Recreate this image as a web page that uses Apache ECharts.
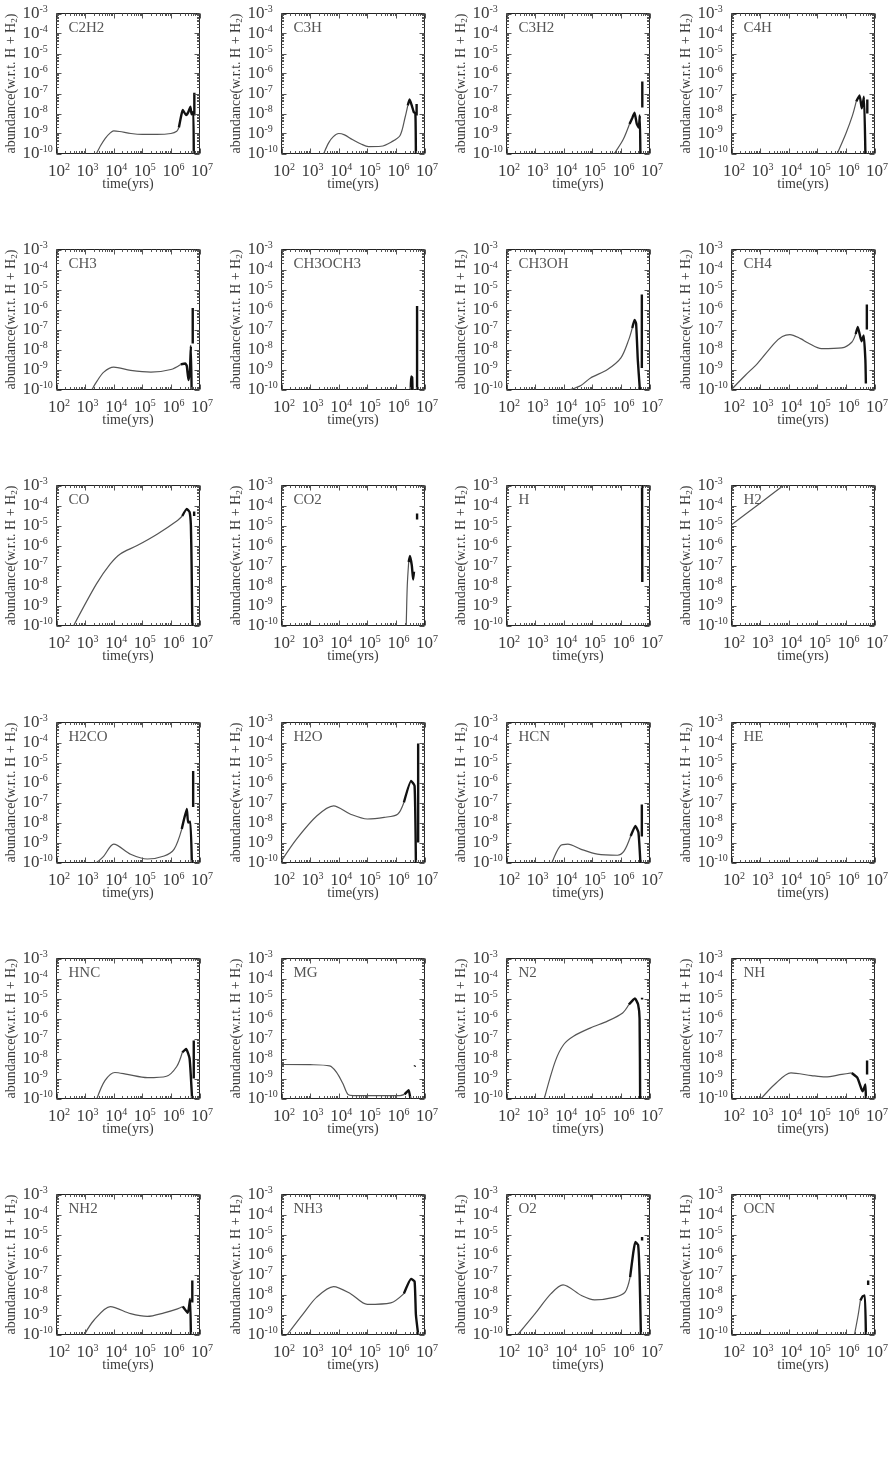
<!DOCTYPE html>
<html><head><meta charset="utf-8">
<script src="https://cdn.jsdelivr.net/npm/echarts@6/dist/echarts.min.js"></script>
<style>html,body{margin:0;padding:0;background:#fff}#c{width:888px;height:1462px}</style>
</head><body><div id="c"></div>
<script>
// ---------- data (time in yrs, abundance w.r.t. H + H2) ----------
const species = ['C2H2','C3H','C3H2','C4H','CH3','CH3OCH3','CH3OH','CH4','CO','CO2','H','H2',
                 'H2CO','H2O','HCN','HE','HNC','MG','N2','NH','NH2','NH3','O2','OCN'];
const GAP = [null, null];
const xTickDecades = [2, 3, 4, 5, 6, 7];
const yTickDecades = [-10, -9, -8, -7, -6, -5, -4, -3];
const minorSteps = [2, 3, 4, 5, 6, 7, 8, 9];

const d_C2H2 = [[2.5e3,1e-10],[3.5e3,2.5e-10],[5e3,5.6e-10],[7.6e3,1.07e-9],[1e4,1.35e-9],[1.6e4,1.26e-9],[4e4,1e-9],[1e5,9e-10],[3.2e5,9e-10],[1e6,1e-9],[1.6e6,1.3e-9],[1.9e6,2e-9]];
const t_C2H2 = [[1.9e6,2e-9],[2.3e6,8e-9],[2.6e6,1.5e-8],[3.4e6,8.3e-9],[4.1e6,1.2e-8],[4.8e6,2.2e-8],[5.3e6,9e-9],[6.1e6,1.2e-8],[6.3e6,1e-10],GAP,[6.6e6,8e-9],[6.6e6,1.1e-7]];
const d_C3H = [[3e3,1e-10],[4.5e3,3.5e-10],[6.5e3,7e-10],[1e4,1e-9],[1.6e4,8.5e-10],[3e4,5e-10],[6e4,3e-10],[1.1e5,2.2e-10],[3e5,2.3e-10],[7e5,3.8e-10],[1.4e6,8e-10],[2.1e6,6.5e-9],[2.6e6,2.5e-8]];
const t_C3H = [[2.6e6,2.5e-8],[3e6,5e-8],[3.6e6,2.5e-8],[4.2e6,1.2e-8],[4.8e6,1e-8],[5e6,1e-10],GAP,[5.3e6,8e-9],[5.3e6,3e-8]];
const d_C3H2 = [[5.9e5,1e-10],[1.2e6,5e-10],[2e6,3e-9]];
const t_C3H2 = [[2e6,3e-9],[2.5e6,6e-9],[3e6,1.1e-8],[3.6e6,3e-9],[4.2e6,2e-9],[4.6e6,8e-9],[4.8e6,1e-10],GAP,[5.6e6,2e-8],[5.6e6,4e-7]];
const d_C4H = [[5e5,1e-10],[1e6,1e-9],[1.7e6,8e-9],[2.3e6,4e-8]];
const t_C4H = [[2.3e6,4e-8],[3e6,8e-8],[3.6e6,1.8e-8],[4.3e6,7e-8],[4.8e6,1e-10],GAP,[5.6e6,1e-8],[5.6e6,5e-8]];
const d_CH3 = [[1.75e3,1e-10],[2.6e3,2.6e-10],[4.5e3,7.4e-10],[1e4,1.3e-9],[3.9e4,9e-10],[2e5,7.4e-10],[1e6,1e-9],[2.2e6,1.8e-9]];
const t_CH3 = [[2.2e6,1.8e-9],[3.2e6,2e-9],[3.6e6,1.5e-9],[4.1e6,3e-10],[4.6e6,8e-10],[5e6,1.5e-8],[5.3e6,1e-10],GAP,[5.8e6,2e-8],[5.8e6,1.2e-6]];
const d_CH3OCH3 = [];
const t_CH3OCH3 = [[3.3e6,1e-10],[3.4e6,4.5e-10],[3.7e6,4e-10],[3.8e6,1e-10],GAP,[5.5e6,1e-10],[5.5e6,1.5e-6]];
const d_CH3OH = [[1.7e4,1e-10],[4e4,1.6e-10],[8.7e4,3.8e-10],[3.4e5,1e-9],[1e6,3.8e-9],[1.9e6,3.2e-8],[2.5e6,1.2e-7]];
const t_CH3OH = [[2.5e6,1.2e-7],[3e6,3e-7],[3.4e6,2e-7],[3.9e6,3e-9],[4.6e6,1e-10],GAP,[5.4e6,1.2e-9],[5.4e6,5.6e-6]];
const d_CH4 = [[1e2,1e-10],[3e2,5e-10],[8.3e2,2.1e-9],[3.2e3,2.1e-8],[6e3,4.5e-8],[1.1e4,5.6e-8],[2.6e4,3.5e-8],[4.8e4,2.1e-8],[1.4e5,1.1e-8],[7.2e5,1.2e-8],[1.6e6,2.3e-8],[2.2e6,6e-8]];
const t_CH4 = [[2.2e6,6e-8],[2.6e6,1.35e-7],[3.5e6,2.6e-8],[4.2e6,5e-8],[4.8e6,3e-9],[5e6,2e-10],GAP,[5.4e6,1e-7],[5.4e6,1.8e-6]];
const d_CO = [[4e2,1e-10],[2.5e3,1.2e-8],[7.6e3,1.2e-7],[1.7e4,3.8e-7],[6.6e4,1e-6],[3.4e5,3.8e-6],[1.7e6,1.8e-5],[2.5e6,3e-5]];
const t_CO = [[2.5e6,3e-5],[3.6e6,6.8e-5],[4.5e6,4.7e-5],[5e6,1e-5],[5.3e6,1e-7],[5.6e6,1e-10],GAP,[6.5e6,3e-5],[6.5e6,5e-5]];
const d_CO2 = [[2.3e6,1e-10],[2.5e6,1e-8],[2.8e6,1.5e-7]];
const t_CO2 = [[2.8e6,1.5e-7],[3.1e6,3e-7],[3.6e6,1e-7],[4e6,2e-8],[4.3e6,5e-8],GAP,[5.5e6,2e-5],[5.5e6,4e-5]];
const d_H = [];
const t_H = [[5.5e6,1e-3],[5.6e6,1.5e-8]];
const d_H2 = [[1e2,1.1e-5],[1e3,1.3e-4],[6.5e3,1e-3]];
const t_H2 = [];
const d_H2CO = [[2.5e3,1e-10],[4.5e3,2.1e-10],[1e4,8.3e-10],[3.9e4,2.6e-10],[1.5e5,1.5e-10],[5.8e5,2.1e-10],[1.3e6,4.7e-10],[2.4e6,4.7e-9]];
const t_H2CO = [[2.4e6,4.7e-9],[3.6e6,4.7e-8],[4e6,1e-8],[4.8e6,1.1e-8],[5.4e6,1e-10],GAP,[6e6,6e-8],[6e6,3.8e-6]];
const d_H2O = [[1e2,1.2e-10],[3.4e2,1.5e-9],[1.7e3,2.1e-8],[6.6e3,6.8e-8],[2.6e4,2.6e-8],[1e5,1.5e-8],[3.9e5,1.8e-8],[1.15e6,2.6e-8],[1.9e6,1e-7]];
const t_H2O = [[1.9e6,1e-7],[3.4e6,1.2e-6],[4.5e6,6.8e-7],[5e6,1e-10],GAP,[6e6,1e-9],[6e6,9e-5]];
const d_HCN = [[3.9e3,1e-10],[7.6e3,6.8e-10],[1.4e4,8.3e-10],[3.9e4,4.7e-10],[1.5e5,2.6e-10],[7.6e5,2.3e-10],[1.3e6,3.8e-10],[2.2e6,2.1e-9]];
const t_HCN = [[2.2e6,2.1e-9],[3.2e6,6.8e-9],[4.1e6,3.2e-9],[4.8e6,1e-10],GAP,[5.4e6,2e-9],[5.4e6,8e-8]];
const d_HE = [];
const t_HE = [];
const d_HNC = [[2.6e3,1e-10],[5e3,8e-10],[1.1e4,2e-9],[3e4,1.6e-9],[1.5e5,1.1e-9],[7e5,1.3e-9],[1.6e6,4e-9],[2.5e6,2e-8]];
const t_HNC = [[2.5e6,2e-8],[3.4e6,3e-8],[4.5e6,1e-8],[5.5e6,1e-10],GAP,[6.3e6,1e-9],[6.3e6,8e-8]];
const d_MG = [[1e2,5e-9],[1e3,4.9e-9],[4.8e3,4.3e-9],[8.3e3,2.1e-9],[1.4e4,5.6e-10],[2.1e4,1.6e-10],[3.2e4,1.4e-10],[1.4e6,1.4e-10],[2e6,1.6e-10]];
const t_MG = [[2e6,1.6e-10],[2.8e6,2.6e-10],[3.2e6,1e-10],GAP,[4.5e6,4e-9],[4.7e6,4.5e-9]];
const d_N2 = [[2.1e3,1e-10],[5.1e3,7.4e-9],[1e4,5e-8],[2.2e4,1.3e-7],[8.7e4,3.4e-7],[3.4e5,7.4e-7],[1.15e6,1.9e-6],[1.9e6,5e-6]];
const t_N2 = [[1.9e6,5e-6],[3.1e6,1e-5],[4e6,5e-6],[4.5e6,1e-6],[4.7e6,1e-10],GAP,[5.5e6,9e-6],[5.5e6,1.1e-5]];
const d_NH = [[1.1e3,1e-10],[3.2e3,5e-10],[1.2e4,1.9e-9],[6.3e4,1.4e-9],[1.9e5,1.2e-9],[7.2e5,1.6e-9],[1.6e6,1.9e-9]];
const t_NH = [[1.6e6,1.9e-9],[2.5e6,1.1e-9],[3.5e6,3e-10],[3.9e6,2.3e-10],[4.8e6,5e-10],[5e6,1e-10],GAP,[5.5e6,1.6e-9],[5.5e6,8e-9]];
const d_NH2 = [[9.5e2,1e-10],[2e3,5e-10],[7.6e3,2.5e-9],[3.9e4,1.1e-9],[1.5e5,8e-10],[5.8e5,1.2e-9],[1.7e6,1.9e-9],[2.6e6,2.5e-9]];
const t_NH2 = [[2.6e6,2.5e-9],[3.9e6,1.2e-9],[4.7e6,6e-9],[5e6,1e-10],GAP,[5.6e6,4e-9],[5.6e6,5e-8]];
const d_NH3 = [[1.6e2,1e-10],[5.8e2,1.1e-9],[1.7e3,7.4e-9],[6.6e3,2.5e-8],[2.6e4,1.1e-8],[1e5,3.2e-9],[6.6e5,3.8e-9],[1.9e6,1.1e-8]];
const t_NH3 = [[1.9e6,1.1e-8],[3.4e6,6e-8],[4.5e6,4.5e-8],[5e6,1e-9],[6e6,1e-10]];
const d_O2 = [[2.5e2,1e-10],[1e3,1.1e-9],[3.6e3,1.1e-8],[9.5e3,3e-8],[4.2e4,8.9e-9],[1.2e5,5.4e-9],[6.3e5,7.4e-9],[1.4e6,1.3e-8],[2.1e6,7.4e-8]];
const t_O2 = [[2.1e6,7.4e-8],[2.7e6,1.2e-6],[3.2e6,4.2e-6],[4e6,3e-6],[4.5e6,1e-7],[5e6,1e-10],GAP,[5.5e6,5e-6],[5.5e6,7.5e-6]];
const d_OCN = [[2e6,1e-10],[2.7e6,1e-9],[3.2e6,5e-9]];
const t_OCN = [[3.2e6,5e-9],[3.8e6,8e-9],[4.6e6,9e-9],[5e6,1e-10],GAP,[6e6,3e-8],[6e6,5e-8]];

const curves = {
  C2H2:[d_C2H2,t_C2H2], C3H:[d_C3H,t_C3H], C3H2:[d_C3H2,t_C3H2], C4H:[d_C4H,t_C4H],
  CH3:[d_CH3,t_CH3], CH3OCH3:[d_CH3OCH3,t_CH3OCH3], CH3OH:[d_CH3OH,t_CH3OH], CH4:[d_CH4,t_CH4],
  CO:[d_CO,t_CO], CO2:[d_CO2,t_CO2], H:[d_H,t_H], H2:[d_H2,t_H2],
  H2CO:[d_H2CO,t_H2CO], H2O:[d_H2O,t_H2O], HCN:[d_HCN,t_HCN], HE:[d_HE,t_HE],
  HNC:[d_HNC,t_HNC], MG:[d_MG,t_MG], N2:[d_N2,t_N2], NH:[d_NH,t_NH],
  NH2:[d_NH2,t_NH2], NH3:[d_NH3,t_NH3], O2:[d_O2,t_O2], OCN:[d_OCN,t_OCN]
};

// ---------- chart ----------
const FONT = '"Liberation Serif", "DejaVu Serif", serif';
const TXT = '#3a3a3a';
const tickRich = {
  b: {fontFamily: FONT, fontSize: 17, color: TXT, lineHeight: 18},
  s: {fontFamily: FONT, fontSize: 10, color: TXT, lineHeight: 10, verticalAlign: 'top'}
};
function powLabel(v) { return '{b|10}{s|' + Math.round(Math.log10(v)) + '}'; }

// tick positions (axis decoration)
const tickData = [];
xTickDecades.forEach(k => {
  tickData.push([Math.pow(10, k), 1e-10, 0, 1]);
  if (k < 7) minorSteps.forEach(m => tickData.push([m * Math.pow(10, k), 1e-10, 0, 0]));
});
yTickDecades.forEach(k => {
  tickData.push([1e2, Math.pow(10, k), 1, 1]);
  if (k < -3) minorSteps.forEach(m => tickData.push([1e2, m * Math.pow(10, k), 1, 0]));
});
function tickRender(params, api) {
  const cs = params.coordSys;
  const kind = api.value(2);
  const len = api.value(3) ? 5 : 2.5;
  const p = api.coord([api.value(0), api.value(1)]);
  const st = {stroke: '#555', lineWidth: 1};
  if (kind === 0) {
    const x = Math.round(p[0]) + 0.5, yb = cs.y + cs.height, yt = cs.y;
    return {type: 'group', children: [
      {type: 'line', shape: {x1: x, y1: yb, x2: x, y2: yb - len}, style: st},
      {type: 'line', shape: {x1: x, y1: yt, x2: x, y2: yt + len}, style: st}]};
  }
  const y = Math.round(p[1]) + 0.5, xl = cs.x, xr = cs.x + cs.width;
  return {type: 'group', children: [
    {type: 'line', shape: {x1: xl, y1: y, x2: xl + len, y2: y}, style: st},
    {type: 'line', shape: {x1: xr, y1: y, x2: xr - len, y2: y}, style: st}]};
}

const grids = [], xAxes = [], yAxes = [], series = [], titles = [];
species.forEach((name, i) => {
  const r = Math.floor(i / 4), c = i % 4;
  const left = 56.5 + 225 * c;
  const top = Math.round(13 + 236.2 * r) + 0.5;
  grids.push({left, top, width: 143, height: 140, show: true, borderColor: '#222', borderWidth: 1,
              backgroundColor: 'transparent', containLabel: false, outerBoundsMode: 'none'});
  xAxes.push({type: 'log', logBase: 10, gridIndex: i, min: 1e2, max: 1e7, splitNumber: 5,
    axisLine: {show: false}, axisTick: {show: false}, splitLine: {show: false},
    axisLabel: {formatter: powLabel, rich: tickRich, margin: 9, padding: [0, 0, 0, 5]},
    name: 'time(yrs)', nameLocation: 'middle', nameGap: 24, nameMoveOverlap: false,
    nameTextStyle: {fontFamily: FONT, fontSize: 14, color: TXT}});
  yAxes.push({type: 'log', logBase: 10, gridIndex: i, min: 1e-10, max: 1e-3, splitNumber: 7,
    axisLine: {show: false}, axisTick: {show: false}, splitLine: {show: false},
    axisLabel: {formatter: powLabel, rich: tickRich, margin: 34, align: 'left'},
    name: '{n|abundance(w.r.t. H + H}{sub|2}{n|)}', nameLocation: 'middle', nameGap: 37,
    nameRotate: 90, nameMoveOverlap: false,
    nameTextStyle: {fontFamily: FONT, fontSize: 14, color: TXT, rich: {
      n: {fontFamily: FONT, fontSize: 14, color: TXT, lineHeight: 16},
      sub: {fontFamily: FONT, fontSize: 9, color: TXT, lineHeight: 8, verticalAlign: 'bottom'}}}});
  titles.push({text: name, left: left + 12, top: top + 7, padding: 0,
    textStyle: {fontFamily: FONT, fontSize: 15, fontWeight: 'normal', color: '#555'}});
  const [main, tail] = curves[name];
  series.push({type: 'line', xAxisIndex: i, yAxisIndex: i, data: main, symbol: 'none',
    smooth: 0.3,
    lineStyle: {color: '#555', width: 1.2}, silent: true, animation: false, z: 3});
  series.push({type: 'line', xAxisIndex: i, yAxisIndex: i, data: tail, symbol: 'none',
    smooth: 0.15,
    lineStyle: {color: '#111', width: 2.4}, silent: true, animation: false, z: 4});
  series.push({type: 'custom', xAxisIndex: i, yAxisIndex: i, data: tickData, renderItem: tickRender,
    clip: false, silent: true, animation: false, z: 5});
});

const chart = echarts.init(document.getElementById('c'), null, {renderer: 'canvas'});
chart.setOption({backgroundColor: '#fff', animation: false, title: titles, grid: grids,
  xAxis: xAxes, yAxis: yAxes, series: series, tooltip: {show: false}});
</script></body></html>
